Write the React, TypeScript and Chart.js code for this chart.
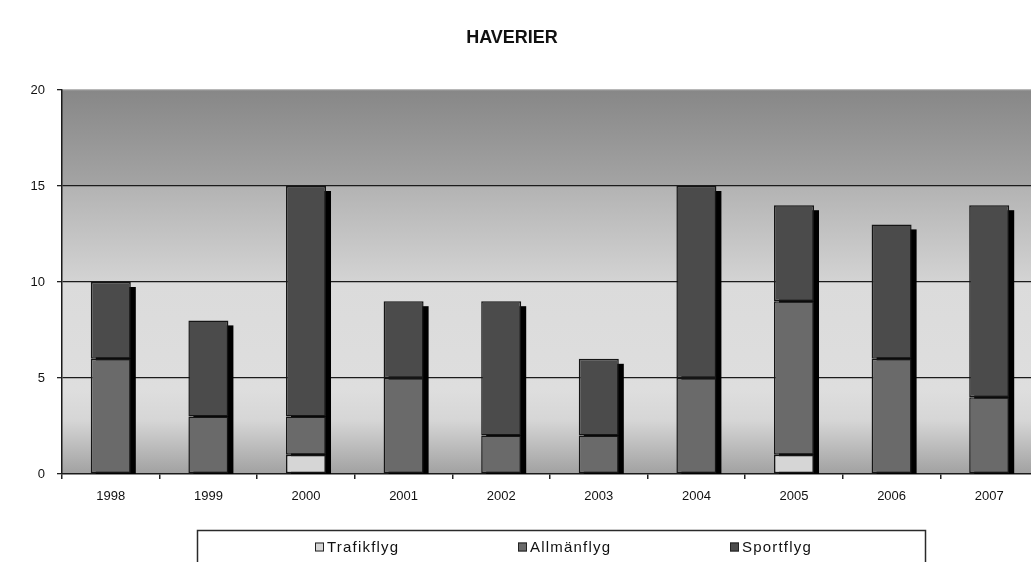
import React, { useEffect, useRef } from "react";
import { Chart, registerables } from "chart.js";

Chart.register(...registerables);

// Accidents per year, split by type of aviation
const years = ["1998", "1999", "2000", "2001", "2002", "2003", "2004", "2005", "2006", "2007"];
const trafikflyg = [0, 0, 1, 0, 0, 0, 0, 1, 0, 0];
const allmanflyg = [6, 3, 2, 5, 2, 2, 5, 8, 6, 4];
const sportflyg = [4, 5, 12, 4, 7, 4, 10, 5, 7, 10];
const yTicks = [0, 5, 10, 15, 20];
const seriesNames = ["Trafikflyg", "Allmänflyg", "Sportflyg"];
const seriesColors = ["#d6d6d6", "#6a6a6a", "#4b4b4b"];
const chartTitle = "HAVERIER";

const FONT = "'Liberation Sans', Arial, sans-serif";

// Gray gradient behind the plot area
const plotBackground = {
  id: "plotBackground",
  beforeDraw(chart: any) {
    const { ctx, chartArea: a } = chart;
    const g = ctx.createLinearGradient(0, a.top, 0, a.bottom);
    g.addColorStop(0, "#878787");
    g.addColorStop(0.248, "#a4a4a4");
    g.addColorStop(0.252, "#b3b3b3");
    g.addColorStop(0.497, "#d3d3d3");
    g.addColorStop(0.503, "#dbdbdb");
    g.addColorStop(0.78, "#dedede");
    g.addColorStop(0.86, "#d6d6d6");
    g.addColorStop(1, "#a1a1a1");
    ctx.save();
    ctx.fillStyle = g;
    ctx.fillRect(a.left, a.top, a.right - a.left, a.bottom - a.top);
    ctx.restore();
  },
};

// Black drop shadow behind each stacked column
const columnShadow = {
  id: "columnShadow",
  beforeDatasetsDraw(chart: any) {
    const { ctx, chartArea: a } = chart;
    const n = chart.data.labels.length;
    ctx.save();
    ctx.beginPath();
    ctx.rect(a.left, a.top, a.right - a.left, a.bottom - a.top);
    ctx.clip();
    ctx.fillStyle = "#000";
    for (let i = 0; i < n; i++) {
      let top: number | null = null;
      let el: any = null;
      for (let d = chart.data.datasets.length - 1; d >= 0; d--) {
        const v = chart.data.datasets[d].data[i];
        if (v > 0) {
          el = chart.getDatasetMeta(d).data[i];
          top = el.y;
          break;
        }
      }
      if (el == null || top == null) continue;
      const left = el.x - el.width / 2;
      const off = 5;
      ctx.fillRect(left + off, top + off, el.width, a.bottom - top - off);
    }
    ctx.restore();
  },
};

// Title and boxed legend
const decorations = {
  id: "decorations",
  afterDraw(chart: any) {
    const { ctx } = chart;
    ctx.save();
    ctx.fillStyle = "#111";
    ctx.font = `bold 18px ${FONT}`;
    ctx.textAlign = "center";
    ctx.textBaseline = "middle";
    ctx.fillText(chartTitle, 512, 38);

    // legend frame
    ctx.fillStyle = "#fff";
    ctx.fillRect(197, 530, 729, 60);
    ctx.strokeStyle = "#2a2a2a";
    ctx.lineWidth = 1.5;
    ctx.strokeRect(197.5, 530.5, 728, 60);

    const itemX = [315, 518, 730];
    const midY = 547;
    ctx.textAlign = "left";
    ctx.font = `15px ${FONT}`;
    (ctx as any).letterSpacing = "1.2px";
    chart.data.datasets.forEach((ds: any, i: number) => {
      const x = itemX[i];
      ctx.fillStyle = ds.backgroundColor;
      ctx.fillRect(x, midY - 4.5, 9, 9);
      ctx.strokeStyle = "#222";
      ctx.lineWidth = 1;
      ctx.strokeRect(x + 0.5, midY - 4, 8, 8);
      ctx.fillStyle = "#111";
      ctx.fillText(ds.label, x + 12, midY + 1);
    });
    (ctx as any).letterSpacing = "0px";
    ctx.restore();
  },
};

export default function App() {
  const ref = useRef<HTMLCanvasElement | null>(null);

  useEffect(() => {
    if (!ref.current) return;
    const values = [trafikflyg, allmanflyg, sportflyg];
    const chart = new Chart(ref.current, {
      type: "bar",
      data: {
        labels: years,
        datasets: seriesNames.map((name, i) => ({
          label: name,
          data: values[i],
          backgroundColor: seriesColors[i],
          borderColor: "#151515",
          borderWidth: 1.5,
          borderSkipped: false,
          categoryPercentage: 1,
          barPercentage: 0.41,
        })),
      },
      options: {
        responsive: false,
        animation: false,
        devicePixelRatio: 1,
        layout: { padding: { top: 90, right: 2, left: 0, bottom: 0 } },
        plugins: {
          legend: { display: false },
          title: { display: false },
          tooltip: { enabled: false },
        },
        scales: {
          x: {
            stacked: true,
            grid: {
              display: true,
              drawOnChartArea: false,
              drawTicks: true,
              tickLength: 5,
              offset: true,
              color: "#222",
              lineWidth: 1.5,
            },
            border: { display: true, color: "#1a1a1a", width: 1.5 },
            ticks: {
              color: "#111",
              font: { family: FONT, size: 13 },
              padding: 10,
              maxRotation: 0,
            },
            afterFit(scale: any) {
              scale.height = 88;
            },
          },
          y: {
            stacked: true,
            min: 0,
            max: 20,
            afterBuildTicks(scale: any) {
              scale.ticks = yTicks.map((v) => ({ value: v }));
            },
            grid: {
              color: (c: any) =>
                c.tick && c.tick.value === 20 ? "#b8b8b8" : c.tick && c.tick.value === 0 ? "rgba(0,0,0,0)" : "#1c1c1c",
              lineWidth: 1.3,
              tickColor: "#222",
              tickLength: 5,
            },
            border: { display: true, color: "#1a1a1a", width: 1.5 },
            ticks: {
              color: "#111",
              font: { family: FONT, size: 13 },
              padding: 12,
            },
            afterFit(scale: any) {
              scale.width = 62;
            },
          },
        },
      },
      plugins: [plotBackground, columnShadow, decorations],
    });
    return () => chart.destroy();
  }, []);

  return (
    <div
      style={{
        position: "fixed",
        left: 0,
        top: 0,
        width: 1031,
        height: 562,
        overflow: "hidden",
        background: "#fff",
      }}
    >
      <canvas ref={ref} width={1040} height={562} style={{ display: "block" }} />
    </div>
  );
}
